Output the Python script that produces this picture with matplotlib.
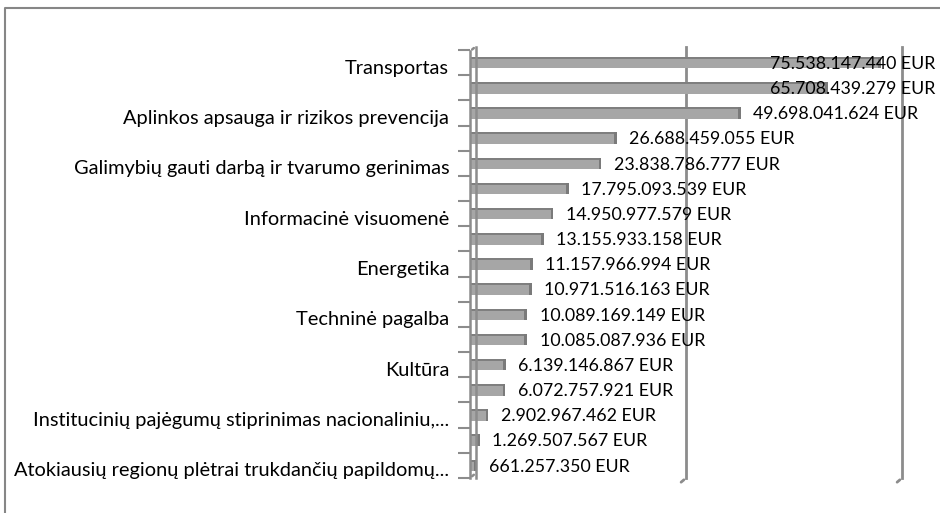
import numpy as np
import matplotlib
matplotlib.use("Agg")
import matplotlib.pyplot as plt
import matplotlib.transforms as mtransforms

# data, top to bottom as in the chart
categories = [
    "Transportas", "",
    "Aplinkos apsauga ir rizikos prevencija", "",
    "Galimybių gauti darbą ir tvarumo gerinimas", "",
    "Informacinė visuomenė", "",
    "Energetika", "",
    "Techninė pagalba", "",
    "Kultūra", "",
    "Institucinių pajėgumų stiprinimas nacionaliniu,...", "",
    "Atokiausių regionų plėtrai trukdančių papildomų...",
]
values = [
    75538147440, 65708439279, 49698041624, 26688459055, 23838786777,
    17795093539, 14950977579, 13155933158, 11157966994, 10971516163,
    10089169149, 10085087936, 6139146867, 6072757921, 2902967462,
    1269507567, 661257350,
]
gridlines = [40e9, 80e9]

FONT = "Lato"
FS_CAT = 14.4
FS_VAL = 12.8
GREY = "#8c8c8c"

fig = plt.figure(figsize=(9.4, 5.13), dpi=100, facecolor="w")

# outer chart border (runs off the right and bottom edges), pixel coordinates
bg = fig.add_axes([0, 0, 1, 1], zorder=-1)
bg.set_xlim(0, 940)
bg.set_ylim(513, 0)
bg.axis("off")
bg.plot([5, 5, 945], [520, 8, 8], color="#868686", lw=1.5, clip_on=False)

ax = fig.add_axes([470 / 940, 35 / 513, 432 / 940, 428 / 513])
ax.patch.set_alpha(0)
ypos = np.arange(len(values))
h = 0.46

ax.barh(ypos, values, height=h, color="#a6a6a6", zorder=3)
ax.barh(ypos - h / 2 + 0.04, values, height=0.08, color="#7f7f7f", zorder=4)  # top edge
ax.barh(ypos, [0.5e9] * len(values), left=values, height=h,
        color="#7a7a7a", zorder=4)  # end cap

ax.set_xlim(0, 80e9)
ax.set_ylim(len(values) - 0.5, -0.5)

# back wall gridlines with small 3D foot
for g in gridlines:
    ax.plot([g, g], [len(values) - 0.5, -0.6], color=GREY, lw=2, zorder=1,
            clip_on=False)
    ax.annotate("", xy=(g, len(values) - 0.5), xytext=(-7, -6),
                textcoords="offset pixels",
                arrowprops=dict(arrowstyle="-", color=GREY, lw=2))

# left wall: back line, front line, top diagonal
back = mtransforms.offset_copy(ax.transData, fig=fig, x=6, y=0, units="dots")
ax.plot([0, 0], [len(values) - 0.5, -0.6], color=GREY, lw=1.8, zorder=5, clip_on=False,
        transform=back)
ax.plot([0, 0], [len(values) - 0.5, -0.45], color=GREY, lw=1.8, zorder=5, clip_on=False)
ax.annotate("", xy=(0, -0.45), xytext=(6, 5), textcoords="offset pixels",
            arrowprops=dict(arrowstyle="-", color=GREY, lw=1.8))
ax.annotate("", xy=(0, len(values) - 0.5), xytext=(6, 5), textcoords="offset pixels",
            arrowprops=dict(arrowstyle="-", color=GREY, lw=1.8))

for s in ax.spines.values():
    s.set_visible(False)
ax.set_xticks([])
ax.set_yticks(ypos)
ax.set_yticklabels(categories, fontsize=FS_CAT, family=FONT)
ax.tick_params(axis="y", which="major", length=0, pad=15)
ax.set_yticks(np.arange(-0.5, len(values), 1), minor=True)
ax.tick_params(axis="y", which="minor", length=9, width=1.5, color=GREY)
shift = mtransforms.ScaledTranslation(0, -4 / 100, fig.dpi_scale_trans)
for lab in ax.get_yticklabels():
    lab.set_transform(lab.get_transform() + shift)

# value labels
for y, v in zip(ypos, values):
    s = f"{v:,}".replace(",", ".") + " EUR"
    x = min(v + 2.8e9, 55.5e9)
    ax.text(x, y + 0.05, s, va="center", ha="left", fontsize=FS_VAL, family=FONT,
            zorder=6)

fig.savefig("out.png", dpi=100)
